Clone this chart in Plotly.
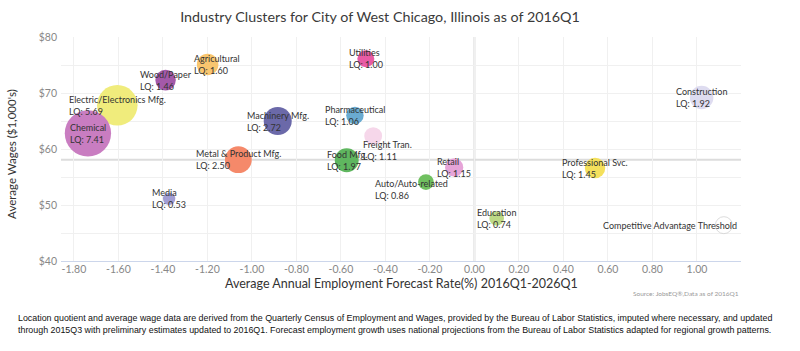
import plotly.graph_objects as go

# ---------------- data ----------------
TITLE = "Industry Clusters for City of West Chicago, Illinois as of 2016Q1"
X_TITLE = "Average Annual Employment Forecast Rate(%) 2016Q1-2026Q1"
Y_TITLE = "Average Wages ($1,000's)"
SOURCE = "Source: JobsEQ®,Data as of 2016Q1"
FOOTNOTE = ("Location quotient and average wage data are derived from the Quarterly Census of Employment and Wages, "
            "provided by the Bureau of Labor Statistics, imputed where necessary, and updated<br>"
            "through 2015Q3 with preliminary estimates updated to 2016Q1. Forecast employment growth uses national "
            "projections from the Bureau of Labor Statistics adapted for regional growth patterns.")

INDUSTRIES = ["Electric/Electronics Mfg.", "Chemical", "Wood/Paper", "Agricultural", "Utilities",
              "Machinery Mfg.", "Pharmaceutical", "Freight Tran.", "Metal & Product Mfg.", "Food Mfg.",
              "Media", "Auto/Auto-related", "Retail", "Education", "Professional Svc.", "Construction"]
GROWTH = [-1.605, -1.737, -1.388, -1.199, -0.488, -0.884, -0.537, -0.455, -1.061, -0.574,
          -1.372, -0.218, -0.091, 0.100, 0.542, 1.021]
WAGES = [67.8, 62.8, 72.3, 75.1, 76.1, 65.0, 66.0, 62.3, 58.1, 58.0,
         51.1, 54.1, 56.7, 47.6, 56.6, 69.2]
LQ = [5.69, 7.41, 1.46, 1.60, 1.00, 2.72, 1.06, 1.11, 2.50, 1.97,
      0.53, 0.86, 1.15, 0.74, 1.45, 1.92]

KEY_LABEL = "Competitive Advantage Threshold"
KEY_GROWTH = 1.121
KEY_WAGE = 46.4
KEY_LQ = 1.00

THRESHOLD_GROWTH = 0.0
THRESHOLD_WAGE = 58.1

X_TICKS = [-1.8, -1.6, -1.4, -1.2, -1.0, -0.8, -0.6, -0.4, -0.2, 0.0, 0.2, 0.4, 0.6, 0.8, 1.0]
Y_TICKS = [40, 45, 50, 55, 60, 65, 70, 75, 80]

# ---------------- style ----------------
COLORS = ["#f0ec7c", "#c97dc1", "#a359a9", "#f9c66f", "#e85ba5", "#6b69a9", "#6aabd1", "#f6d7ea",
          "#f5896a", "#5fb65f", "#a29ed4", "#70c060", "#e6a4d8", "#bdd986", "#f4e05c", "#dedcf0"]
LABEL_SHIFT = {"Agricultural": (9, 0), "Freight Tran.": (14, -14), "Auto/Auto-related": (-14, -7)}
FONT = "Lato, 'Open Sans', sans-serif"
SIZEREF = 1 / 144.5

fig = go.Figure()
fig.add_trace(go.Scatter(
    x=GROWTH, y=WAGES, mode="markers",
    marker=dict(size=LQ, sizemode="area", sizeref=SIZEREF, color=COLORS, opacity=1,
                line=dict(width=0)),
    hoverinfo="skip", showlegend=False))
fig.add_trace(go.Scatter(
    x=[KEY_GROWTH], y=[KEY_WAGE], mode="markers",
    marker=dict(size=[KEY_LQ], sizemode="area", sizeref=SIZEREF, color="white",
                line=dict(width=1, color="#cfcfcf")),
    hoverinfo="skip", showlegend=False))

annotations = []
for name, gx, wy, lq in zip(INDUSTRIES, GROWTH, WAGES, LQ):
    dx, dy = LABEL_SHIFT.get(name, (0, 0))
    annotations.append(dict(x=gx, y=wy, text=f"{name}<br>LQ: {lq:.2f}", showarrow=False,
                            xanchor="center", yanchor="middle", align="left",
                            xshift=dx, yshift=dy, font=dict(family=FONT, size=9, color="#333333")))
annotations.append(dict(x=KEY_GROWTH, y=KEY_WAGE, text=KEY_LABEL, showarrow=False,
                        xanchor="right", yanchor="middle", xshift=15,
                        font=dict(family=FONT, size=9, color="#333333")))
annotations.append(dict(x=0.5, y=0, xref="paper", yref="paper", text=X_TITLE, showarrow=False,
                        xanchor="center", yanchor="middle", yshift=-22,
                        font=dict(family=FONT, size=12.5, color="#333333")))
annotations.append(dict(x=0, y=0.478, xref="paper", yref="paper", text=Y_TITLE, showarrow=False,
                        xanchor="center", yanchor="middle", xshift=-49, textangle=-90,
                        font=dict(family=FONT, size=11.5, color="#333333")))
annotations.append(dict(x=1, y=0, xref="paper", yref="paper", text=SOURCE, showarrow=False,
                        xanchor="right", yanchor="middle", yshift=-32,
                        font=dict(family=FONT, size=6.5, color="#999999")))
annotations.append(dict(x=-0.066, y=0, xref="paper", yref="paper", text=FOOTNOTE, showarrow=False,
                        xanchor="left", yanchor="top", yshift=-50, align="left",
                        font=dict(family="'Liberation Sans', Arial, sans-serif",
                                  size=8.9, color="#111111")))

shapes = [
    dict(type="line", xref="x", yref="paper", x0=THRESHOLD_GROWTH, x1=THRESHOLD_GROWTH, y0=0, y1=1,
         line=dict(color="#dcdcdc", width=2), layer="below"),
    dict(type="line", xref="paper", yref="y", x0=0, x1=1, y0=THRESHOLD_WAGE, y1=THRESHOLD_WAGE,
         line=dict(color="#dcdcdc", width=2), layer="below"),
]

fig.update_layout(
    width=800, height=351,
    margin=dict(l=61, r=59, t=37, b=90),
    paper_bgcolor="white", plot_bgcolor="white",
    title=dict(text=TITLE, x=0.475, xanchor="center", y=1 - 17 / 351, yanchor="middle",
               yref="container", font=dict(family=FONT, size=14.3, color="#3a3a3a")),
    annotations=annotations, shapes=shapes,
    xaxis=dict(range=[-1.858, 1.198], tickvals=X_TICKS, ticktext=[f"{v:.2f}" for v in X_TICKS],
               showgrid=True, gridcolor="#f0f0f0", gridwidth=1, zeroline=False,
               showline=True, linecolor="#ccd6eb", linewidth=1, ticks="",
               ticklabelstandoff=-2,
               tickfont=dict(family=FONT, size=10.5, color="#888888")),
    yaxis=dict(range=[40, 80], tickvals=Y_TICKS,
               ticktext=[f"${v}" if v % 10 == 0 else "" for v in Y_TICKS],
               showgrid=True, gridcolor="#f0f0f0", gridwidth=1, zeroline=False,
               showline=False, ticks="", ticklabelstandoff=3,
               tickfont=dict(family=FONT, size=10.5, color="#888888")),
)

fig.write_html("out.html")
